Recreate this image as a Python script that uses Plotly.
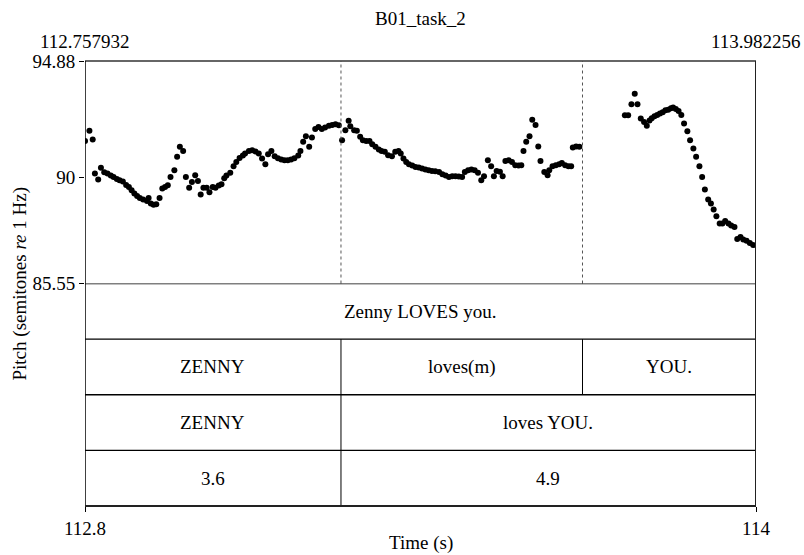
import plotly.graph_objects as go

# ---------------- data ----------------
t_start = 112.757932
t_end = 113.982256
pitch_min = 85.55
pitch_max = 94.88
title_text = "B01_task_2"

pitch_time = [
    112.758, 112.766, 112.772,
    112.776, 112.782, 112.787, 112.793, 112.799, 112.805, 112.810, 112.816, 112.821, 112.827,
    112.833, 112.838, 112.843, 112.848, 112.853, 112.858, 112.864, 112.871, 112.874, 112.878,
    112.883, 112.888, 112.894, 112.899, 112.904, 112.909, 112.914, 112.921, 112.926, 112.931, 112.937,
    112.942, 112.948, 112.953, 112.959, 112.964, 112.969, 112.974, 112.980, 112.985, 112.991,
    112.996, 113.002, 113.007, 113.012, 113.016, 113.023, 113.029, 113.034, 113.040, 113.046,
    113.050, 113.057, 113.063, 113.069, 113.075, 113.081, 113.087, 113.092, 113.098, 113.104,
    113.110, 113.116, 113.122, 113.128, 113.134, 113.140, 113.147, 113.151, 113.156, 113.161,
    113.167, 113.172, 113.178, 113.184, 113.190, 113.196, 113.203, 113.209, 113.215, 113.221,
    113.227, 113.233, 113.239, 113.242, 113.249, 113.254, 113.260, 113.265, 113.271, 113.277,
    113.282, 113.288, 113.294, 113.299, 113.305, 113.311, 113.318, 113.324, 113.330, 113.334,
    113.339, 113.344, 113.349, 113.355, 113.361, 113.367, 113.373, 113.379, 113.385, 113.391,
    113.397, 113.404, 113.410, 113.416, 113.422, 113.428, 113.434, 113.440, 113.446, 113.451,
    113.457, 113.463, 113.469, 113.475, 113.481, 113.486, 113.493, 113.499, 113.504, 113.509,
    113.515, 113.520, 113.525, 113.531, 113.537, 113.543, 113.549, 113.554, 113.558, 113.563,
    113.569, 113.574, 113.580, 113.585, 113.589, 113.596, 113.602, 113.605, 113.611, 113.617,
    113.623, 113.628, 113.634, 113.640, 113.645,
    113.648, 113.654, 113.660,
    113.743, 113.749, 113.755, 113.761, 113.766, 113.772, 113.778, 113.783, 113.788, 113.792,
    113.797, 113.802, 113.807, 113.812, 113.817, 113.822, 113.827, 113.831, 113.836, 113.841,
    113.846, 113.851, 113.857, 113.862, 113.868, 113.873, 113.879, 113.884, 113.889, 113.895,
    113.900, 113.905, 113.910, 113.916, 113.921, 113.926, 113.932, 113.937, 113.943,
    113.948, 113.954, 113.959, 113.965, 113.971, 113.977,
]
pitch_st = [
    91.53, 91.96, 91.59,
    90.16, 89.91, 90.40, 90.22, 90.16, 90.08, 90.02, 89.93, 89.88, 89.83,
    89.68, 89.60, 89.46, 89.32, 89.22, 89.14, 89.07, 89.01, 89.14, 88.90,
    88.85, 88.87, 89.14, 89.53, 89.60, 89.67, 90.02, 90.30, 90.86, 91.28, 91.11,
    90.02, 89.56, 89.81, 90.09, 89.85, 89.28, 89.57, 89.57, 89.38, 89.60,
    89.57, 89.66, 89.71, 89.96, 90.08, 90.19, 90.47, 90.65, 90.81, 90.92,
    91.00, 91.11, 91.14, 91.08, 91.00, 90.79, 90.55, 90.97, 91.11, 90.89,
    90.80, 90.75, 90.72, 90.72, 90.75, 90.80, 90.92, 91.11, 91.49, 91.72,
    91.28, 91.67, 92.03, 92.11, 92.03, 92.09, 92.17, 92.20, 92.23, 92.19,
    91.56, 91.98, 92.37, 92.14, 91.98, 91.95, 91.70, 91.56, 91.53, 91.53,
    91.39, 91.28, 91.17, 91.11, 91.07, 90.93, 90.89, 91.07, 91.11, 91.00,
    90.79, 90.65, 90.55, 90.50, 90.44, 90.41, 90.37, 90.33, 90.30, 90.27,
    90.26, 90.23, 90.13, 90.08, 90.02, 90.05, 90.05, 90.04, 90.02, 90.23,
    90.30, 90.33, 90.30, 90.19, 89.88, 90.05, 90.72, 90.47, 90.05, 90.27,
    90.24, 90.05, 90.69, 90.72, 90.65, 90.51, 90.50, 90.51, 91.11, 91.49,
    91.72, 92.42, 92.20, 91.30, 90.69, 90.23, 90.09, 90.30, 90.47, 90.51,
    90.55, 90.60, 90.51, 90.47, 90.47,
    91.25, 91.30, 91.28,
    92.60, 92.60, 93.07, 93.51, 93.07, 92.47, 92.32, 92.17, 92.39, 92.48,
    92.56, 92.62, 92.68, 92.73, 92.81, 92.84, 92.90, 92.93, 92.87, 92.78,
    92.62, 92.26, 91.93, 91.56, 91.21, 90.86, 90.47, 90.02, 89.49, 89.07,
    88.90, 88.65, 88.37, 88.07, 88.07, 88.17, 88.07, 87.98, 87.92,
    87.42, 87.50, 87.39, 87.34, 87.25, 87.16,
]

# TextGrid tiers (top to bottom): interior boundaries and interval labels
tier1_bounds = []
tier1_labels = ["Zenny LOVES you."]
tier2_bounds = [113.2250, 113.6657]
tier2_labels = ["ZENNY", "loves(m)", "YOU."]
tier3_bounds = [113.2250]
tier3_labels = ["ZENNY", "loves YOU."]
tier4_bounds = [113.2250]
tier4_labels = ["3.6", "4.9"]

y_tick_vals = [pitch_min, 90, pitch_max]
y_tick_text = ["85.55", "90", "94.88"]
x_tick_vals = [t_start, t_end]
x_tick_text = ["112.8", "114"]

# ---------------- figure ----------------
FONT = "Liberation Serif, Times New Roman, serif"
FS = 19

fig = go.Figure()
fig.add_trace(go.Scatter(
    x=pitch_time, y=pitch_st, mode="markers",
    marker=dict(color="black", size=6, line=dict(width=0)),
    xaxis="x", yaxis="y", showlegend=False, hoverinfo="skip",
))

tiers = [
    (tier1_bounds, tier1_labels),
    (tier2_bounds, tier2_labels),
    (tier3_bounds, tier3_labels),
    (tier4_bounds, tier4_labels),
]
n_tiers = len(tiers)

shapes = []
annotations = []
black = "#000000"

for i, (bounds, labels) in enumerate(tiers):
    top = n_tiers - i
    bot = top - 1
    edges = [t_start] + list(bounds) + [t_end]
    shapes.append(dict(type="line", xref="x", yref="y2", x0=t_start, x1=t_end,
                       y0=bot, y1=bot, line=dict(color=black, width=1.3)))
    for b in bounds:
        shapes.append(dict(type="line", xref="x", yref="y2", x0=b, x1=b,
                           y0=bot, y1=top, line=dict(color=black, width=1)))
    for j, lab in enumerate(labels):
        annotations.append(dict(x=(edges[j] + edges[j + 1]) / 2, y=bot + 0.5,
                                xref="x", yref="y2", text=lab, showarrow=False,
                                font=dict(family=FONT, size=FS, color="black"),
                                xanchor="center", yanchor="middle"))

# dotted boundary lines through pitch area (from tier 2)
for b in tier2_bounds:
    shapes.append(dict(type="line", xref="x", yref="paper", x0=b, x1=b,
                       y0=0.5, y1=1, line=dict(color="#555555", width=1, dash="dot")))

shapes.append(dict(type="line", xref="x", yref="y2", x0=t_start, x1=t_end,
                   y0=n_tiers, y1=n_tiers, line=dict(color=black, width=1.3)))
# frame
shapes.append(dict(type="line", xref="x", yref="paper", x0=t_start, x1=t_end,
                   y0=1, y1=1, line=dict(color="#333333", width=1.6)))
shapes.append(dict(type="line", xref="x", yref="paper", x0=t_start, x1=t_start,
                   y0=0, y1=1, line=dict(color=black, width=1.5)))
shapes.append(dict(type="line", xref="x", yref="paper", x0=t_end, x1=t_end,
                   y0=0, y1=1, line=dict(color="#222222", width=2)))
shapes.append(dict(type="line", xref="x", yref="paper", x0=t_start, x1=t_end,
                   y0=0, y1=0, line=dict(color="#222222", width=2)))

# header annotations
annotations.append(dict(x=0.5, y=1, xref="paper", yref="paper", yshift=43,
                        text=title_text, showarrow=False, xanchor="center", yanchor="middle",
                        font=dict(family=FONT, size=FS, color="black")))
annotations.append(dict(x=t_start, y=1, xref="x", yref="paper", yshift=20,
                        text=f"{t_start:.6f}", showarrow=False, xanchor="center", yanchor="middle",
                        font=dict(family=FONT, size=FS, color="black")))
annotations.append(dict(x=t_end, y=1, xref="x", yref="paper", yshift=20,
                        text=f"{t_end:.6f}", showarrow=False, xanchor="center", yanchor="middle",
                        font=dict(family=FONT, size=FS, color="black")))
annotations.append(dict(x=0, y=0.5, xref="paper", yref="paper", xshift=-66,
                        text="Pitch (semitones <i>re</i> 1 Hz)", textangle=-90,
                        showarrow=False, xanchor="center", yanchor="middle",
                        font=dict(family=FONT, size=FS, color="black")))
annotations.append(dict(x=0.5, y=0, xref="paper", yref="paper", yshift=-37,
                        text="Time (s)", showarrow=False, xanchor="center", yanchor="middle",
                        font=dict(family=FONT, size=FS, color="black")))

fig.update_layout(
    width=804, height=555,
    margin=dict(l=85, r=48, t=61, b=49),
    paper_bgcolor="white", plot_bgcolor="white",
    shapes=shapes, annotations=annotations,
    xaxis=dict(range=[t_start, t_end], anchor="y2", showgrid=False, zeroline=False,
               automargin=False,
               showline=False, ticks="outside", ticklen=5, tickwidth=1.2, tickcolor="black",
               tickvals=x_tick_vals, ticktext=x_tick_text,
               tickfont=dict(family=FONT, size=FS, color="black")),
    yaxis=dict(domain=[0.5, 1], range=[pitch_min, pitch_max], showgrid=False, zeroline=False,
               automargin=False,
               showline=False, ticks="outside", ticklen=5, tickwidth=1.2, tickcolor="black",
               tickvals=y_tick_vals, ticktext=y_tick_text,
               tickfont=dict(family=FONT, size=FS, color="black")),
    yaxis2=dict(domain=[0, 0.5], range=[0, n_tiers], showgrid=False, zeroline=False,
                automargin=False,
                showticklabels=False, showline=False, ticks=""),
)

fig.write_html("out.html")
